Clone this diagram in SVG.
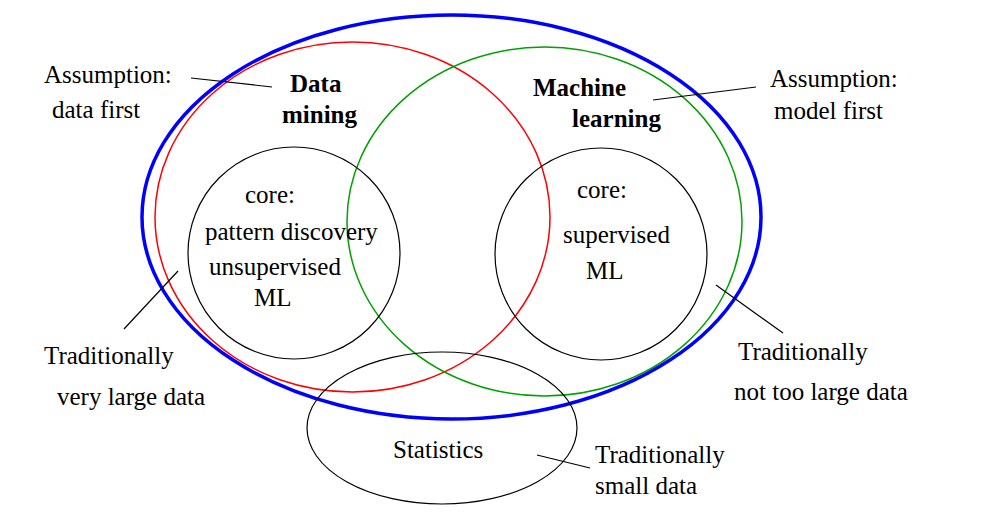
<svg xmlns="http://www.w3.org/2000/svg" width="985" height="525" viewBox="0 0 985 525">
<style>
text{font-family:"Liberation Serif","Times New Roman",serif;font-size:25px;fill:#000}
.b{font-weight:bold}
.e{fill:none}
.ln{stroke:#000;stroke-width:1.2;fill:none}
</style>
<rect width="985" height="525" fill="#fff"/>
<g id="ml-all">
<ellipse class="e" cx="451.5" cy="217" rx="309.5" ry="202" stroke="#0000ff" stroke-width="3.5"/>
</g>
<g id="data-mining">
<ellipse class="e" cx="352.5" cy="217" rx="197.5" ry="175" stroke="#ff0000" stroke-width="1.5"/>
<text class="b" x="290" y="92">Data</text>
<text class="b" x="282" y="123">mining</text>
</g>
<g id="machine-learning">
<ellipse class="e" cx="544.5" cy="221.5" rx="197.5" ry="174.5" stroke="#00a000" stroke-width="1.5"/>
<text class="b" x="533" y="96">Machine</text>
<text class="b" x="572" y="127">learning</text>
</g>
<g id="core-dm">
<ellipse class="e" cx="294" cy="253" rx="106" ry="106" stroke="#000" stroke-width="1.2"/>
<text x="245" y="203">core:</text>
<text x="205" y="240">pattern discovery</text>
<text x="209" y="275">unsupervised</text>
<text x="254" y="306">ML</text>
</g>
<g id="core-ml">
<ellipse class="e" cx="601" cy="254" rx="106" ry="106" stroke="#000" stroke-width="1.2"/>
<text x="577" y="198">core:</text>
<text x="563" y="243">supervised</text>
<text x="586" y="279">ML</text>
</g>
<g id="statistics">
<ellipse class="e" cx="442" cy="428" rx="135" ry="76" stroke="#000" stroke-width="1.2"/>
<text x="393" y="458">Statistics</text>
</g>
<g id="label-data-first">
<text x="44" y="83">Assumption:</text>
<text x="52" y="118">data first</text>
</g>
<g id="label-model-first">
<text x="770" y="87">Assumption:</text>
<text x="774" y="119">model first</text>
</g>
<g id="label-very-large">
<text x="44" y="364">Traditionally</text>
<text x="57" y="405">very large data</text>
</g>
<g id="label-not-too-large">
<text x="738" y="360">Traditionally</text>
<text x="734" y="400">not too large data</text>
</g>
<g id="label-small">
<text x="595" y="463">Traditionally</text>
<text x="595" y="494">small data</text>
</g>
<g id="connectors">
<line class="ln" x1="191" y1="78" x2="272" y2="87"/>
<line class="ln" x1="653" y1="100" x2="756" y2="87"/>
<line class="ln" x1="124" y1="329" x2="178" y2="271"/>
<line class="ln" x1="716" y1="285" x2="783" y2="333"/>
<line class="ln" x1="537" y1="455" x2="590" y2="468"/>
</g>
</svg>
